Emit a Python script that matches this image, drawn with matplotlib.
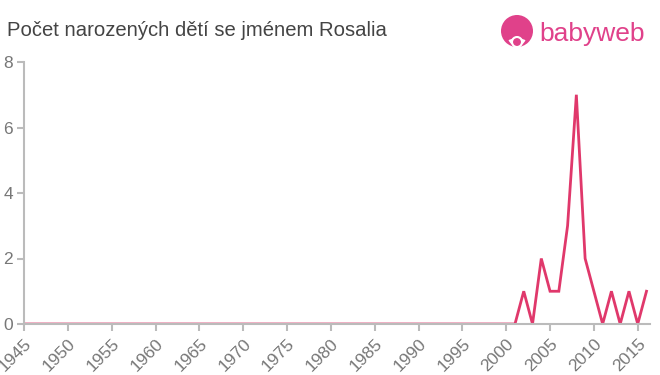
import matplotlib.pyplot as plt
from matplotlib.patches import Circle, Wedge

plt.rcParams['font.family'] = ['Liberation Sans', 'DejaVu Sans']

years = list(range(1945, 2017))
counts = [0] * 56 + [0, 1, 0, 2, 1, 1, 3, 7, 2, 1, 0, 1, 0, 1, 0, 1]
y_ticks = [0, 2, 4, 6, 8]
x_ticks = list(range(1945, 2016, 5))

line_color = '#e0386b'
grey = '#bbbbbb'

fig = plt.figure(figsize=(6.6, 3.75), dpi=100)
ax = fig.add_axes([24 / 660, 1 - 324 / 375, 626 / 660, 262 / 375])

ax.plot(years, counts, color=line_color, linewidth=2, solid_joinstyle='miter')

ax.set_xlim(1945, 2016.4)
ax.set_ylim(0, 8)
ax.set_yticks(y_ticks)
ax.set_xticks(x_ticks)
ax.set_xticklabels([str(x) for x in x_ticks], rotation=45, ha='right',
                   rotation_mode='anchor')

for s in ['top', 'right']:
    ax.spines[s].set_visible(False)
for s in ['left', 'bottom']:
    ax.spines[s].set_color(grey)
    ax.spines[s].set_linewidth(1.5)
ax.tick_params(colors=grey, length=5, width=1.5, labelsize=12.5, labelcolor='#777777')
ax.tick_params(axis='y', pad=3)

fig.text(7 / 660, 1 - 31 / 375, 'Počet narozených dětí se jménem Rosalia',
         fontsize=14.6, color='#444444', va='center', ha='left')

# logo
logo_color = '#e0418a'
fig.patches.append(Circle((517, 375 - 31), 16, transform=None,
                          facecolor=logo_color, edgecolor='none'))
fig.patches.append(Wedge((517, 375 - 37), 9, 200, 340, transform=None,
                         facecolor='white', edgecolor='none'))
fig.patches.append(Circle((517, 375 - 42), 5, transform=None,
                          facecolor=logo_color, edgecolor='white', linewidth=1.5))
fig.text(539 / 660, 1 - 34 / 375, 'babyweb', fontsize=19, color=logo_color,
         va='center', ha='left')

fig.savefig('out.png', dpi=100)
